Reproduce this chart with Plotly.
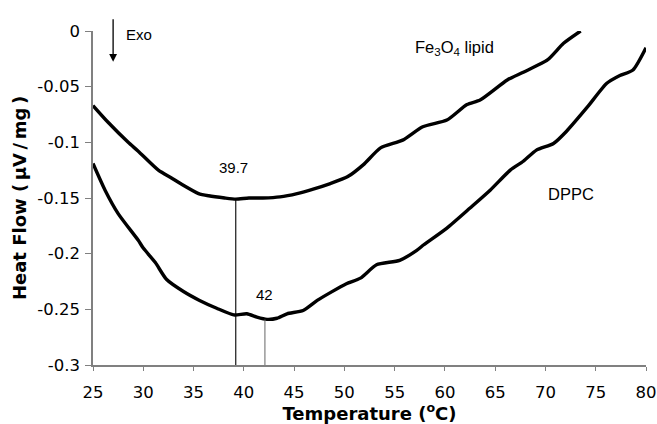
import plotly.graph_objects as go

# Fe3O4 lipid curve (temperature in °C, heat flow in µV/mg)
lipid_T = [25.0, 26.5, 28.5, 29.5, 31.5, 32.8, 33.7, 35.5, 36.5, 38.1, 39.2, 40.5,
           41.9, 43.6, 45.3, 46.9, 48.6, 50.3, 51.9, 53.6, 55.8, 57.8, 60.2, 62.2,
           63.5, 66.2, 67.8, 70.2, 71.8, 73.5]
lipid_H = [-0.067, -0.082, -0.100, -0.108, -0.125, -0.132, -0.137, -0.146, -0.148,
           -0.150, -0.151, -0.150, -0.150, -0.149, -0.146, -0.142, -0.137, -0.131,
           -0.120, -0.105, -0.098, -0.086, -0.080, -0.066, -0.062, -0.044, -0.037,
           -0.026, -0.011, 0.0]

# DPPC curve
dppc_T = [25.0, 26.2, 27.5, 29.5, 30.0, 31.2, 32.3, 34.0, 35.6, 37.3, 39.0, 40.3,
          41.3, 42.3, 43.3, 44.3, 45.9, 47.3, 48.6, 50.2, 51.6, 53.2, 55.5, 57.2,
          57.9, 60.2, 62.5, 64.5, 66.5, 67.8, 69.1, 70.8, 72.1, 74.2, 76.1, 77.4,
          78.7, 80.0]
dppc_H = [-0.119, -0.143, -0.164, -0.188, -0.195, -0.208, -0.223, -0.234, -0.242,
          -0.249, -0.255, -0.254, -0.257, -0.259, -0.258, -0.254, -0.251, -0.242,
          -0.235, -0.227, -0.222, -0.210, -0.206, -0.197, -0.192, -0.177, -0.159,
          -0.143, -0.125, -0.117, -0.107, -0.101, -0.090, -0.068, -0.047, -0.040,
          -0.035, -0.015]

# Peak markers
peak_T = [39.2, 42.1]
peak_H = [-0.151, -0.259]
peak_labels = ["39.7", "42"]
peak_label_T = [39.0, 42.1]
peak_label_H = [-0.123, -0.237]

x_ticks = [25, 30, 35, 40, 45, 50, 55, 60, 65, 70, 75, 80]
y_ticks = [0, -0.05, -0.1, -0.15, -0.2, -0.25, -0.3]
y_tick_text = ["0", "-0.05", "-0.1", "-0.15", "-0.2", "-0.25", "-0.3"]

fig = go.Figure()

fig.add_trace(go.Scatter(x=lipid_T, y=lipid_H, mode="lines",
                         line=dict(color="black", width=3.4, shape="spline", smoothing=0.6),
                         name="Fe3O4 lipid", hoverinfo="skip"))
fig.add_trace(go.Scatter(x=dppc_T, y=dppc_H, mode="lines",
                         line=dict(color="black", width=3.4, shape="spline", smoothing=0.6),
                         name="DPPC", hoverinfo="skip"))

line_colors = ["black", "#555555"]
line_widths = [1.1, 0.9]
for t, h, c, w in zip(peak_T, peak_H, line_colors, line_widths):
    fig.add_trace(go.Scatter(x=[t, t], y=[-0.3, h], mode="lines",
                             line=dict(color=c, width=w), showlegend=False,
                             hoverinfo="skip"))

label_font = dict(family="Liberation Sans, Arial, sans-serif", size=16.5, color="black")
num_font = dict(family="Liberation Sans, Arial, sans-serif", size=15, color="black")

for t, h, s in zip(peak_label_T, peak_label_H, peak_labels):
    fig.add_annotation(x=t, y=h, text=s, showarrow=False, font=num_font)

fig.add_annotation(x=61.0, y=-0.0153, text="Fe<sub>3</sub>O<sub>4</sub> lipid",
                   showarrow=False, font=label_font)
fig.add_annotation(x=72.5, y=-0.146, text="DPPC", showarrow=False, font=label_font)
fig.add_annotation(x=29.6, xref="x", y=1.021, yref="paper", text="Exo",
                   showarrow=False, font=num_font)
fig.add_annotation(x=27.0, xref="x", y=0.908, yref="paper", ax=0, ay=-44,
                   text="", showarrow=True, arrowhead=2, arrowsize=1.2,
                   arrowwidth=1.3, arrowcolor="black")

tick_font = dict(family="DejaVu Sans, Verdana, sans-serif", size=16.5, color="black")
title_font = dict(family="DejaVu Sans, Verdana, sans-serif", size=18, color="black")

fig.update_layout(
    width=657, height=424,
    margin=dict(l=93, r=11, t=31, b=59),
    paper_bgcolor="white", plot_bgcolor="white",
    showlegend=False,
    xaxis=dict(range=[25, 80], tickvals=x_ticks, ticks="outside", ticklen=4,
               tickcolor="#808080", showline=True, linecolor="#808080", linewidth=1.5,
               showgrid=False, zeroline=False, tickfont=tick_font, automargin=False,
               ticklabelstandoff=7,
               title=dict(text="<b>Temperature (<sup>o</sup>C)</b>", font=title_font,
                          standoff=12)),
    yaxis=dict(range=[-0.3, 0], tickvals=y_ticks, ticktext=y_tick_text,
               ticks="outside", ticklen=6, tickcolor="#808080",
               showline=True, linecolor="#808080", linewidth=1.5,
               showgrid=False, zeroline=False, tickfont=tick_font, automargin=False,
               ticklabelstandoff=2,
               title=dict(text="<b>Heat Flow (\u2009µV\u2009/\u2009mg\u2009)</b>",
                          font=title_font, standoff=6)),
)

fig.write_html("out.html",
               config={"displayModeBar": False},
               post_script="document.body.style.margin='0';"
                           "document.documentElement.style.overflow='hidden';")
